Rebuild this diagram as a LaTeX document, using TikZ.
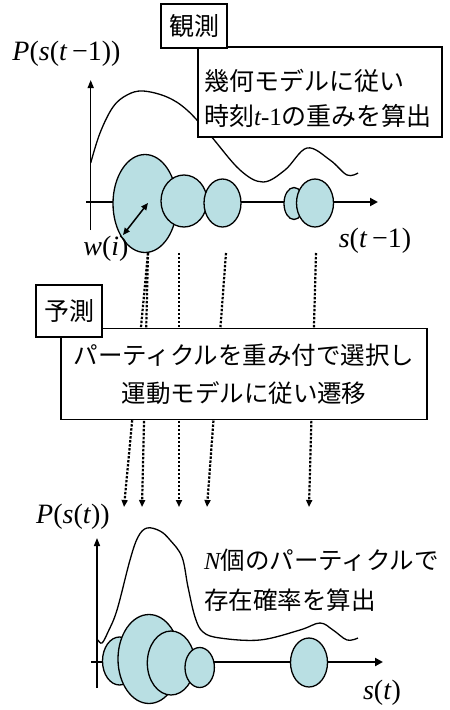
\documentclass[tikz,border=0pt]{standalone}
\usepackage{fontspec}
\setmainfont{Liberation Serif}
\newfontfamily\jp{Noto Sans CJK JP}
\usetikzlibrary{arrows.meta}

\definecolor{particleblue}{RGB}{185,223,227}

\tikzset{
  particle/.style={draw, line width=1.3pt, fill=particleblue},
  haxis/.style={line width=2.5pt, -{Triangle[length=8pt, width=8pt]}},
  vaxis/.style={line width=1.5pt, -{Triangle[length=8pt, width=6pt]}},
  density/.style={line width=1.3pt, smooth, tension=0.6},
  move/.style={line width=2.2pt, dash pattern=on 2.4pt off 1.6pt, -{Triangle[length=7pt, width=6pt]}},
  note/.style={draw, line width=1.5pt, fill=white, inner sep=0pt, font=\jp\fontsize{24.5}{38}\selectfont},
  tag/.style={draw, line width=1.5pt, fill=white, inner sep=0pt, minimum width=66pt, font=\jp\fontsize{25}{30}\selectfont},
  var/.style={font=\fontsize{28}{30}\selectfont, inner sep=0pt}
}

\begin{document}
\begin{tikzpicture}[x=1pt, y=-1pt]
  \useasboundingbox (0,0) rectangle (450,710);

  % time t-1
  \draw[density] plot coordinates {(90.7,163) (100,133) (113,107) (127,95) (143,91) (167,97) (187,110)
    (210,135) (240,170) (263,182) (285,170) (307,148) (330,160) (347,175) (358,173)};
  \draw[vaxis] (90.7,230) -- (90.7,80);
  \draw[haxis] (86,202) -- (378,202);
  \draw[particle] (145,203.5) ellipse [x radius=32pt, y radius=49pt];
  \draw[particle] (184,201) ellipse [x radius=23pt, y radius=26pt];
  \draw[particle] (222.5,203) ellipse [x radius=18.5pt, y radius=24pt];
  \draw[particle] (294,203.5) ellipse [x radius=10pt, y radius=16pt];
  \draw[particle] (315,203) ellipse [x radius=18.5pt, y radius=24pt];
  \coordinate (rim) at (123,235);
  \coordinate (mid) at (148,203);
  \draw[line width=1.5pt, {Triangle[length=7pt, width=6pt]}-{Triangle[length=7pt, width=6pt]}] (rim) -- (mid);

  \node[var] (prev) at (66.5,53.5) {\textit{P}(\textit{s}(\textit{t}\,−1))};
  \node[var] (weight) at (106,249) {\textit{w}(\textit{i})};
  \node[var] (sprev) at (375,241) {\textit{s}(\textit{t}\,−1)};

  \node[note, minimum width=244pt, minimum height=90pt] (geom) at (320,92) {};
  \node[anchor=west, align=left, inner sep=0pt, font=\jp\fontsize{25}{35}\selectfont] (geomtext) at (204,98)
    {幾何モデルに従い\\時刻{\rmfamily\itshape t}{\rmfamily -1}の重みを算出};
  \node[tag, minimum height=44pt] (observe) at (194,26) {観測};

  % resampling and transition
  \coordinate (a1) at (148,253);
  \coordinate (a3) at (179,253);
  \coordinate (a4) at (226,253);
  \coordinate (a5) at (316,253);
  \coordinate (b1) at (124,507);
  \coordinate (b2) at (142,507);
  \coordinate (b3) at (179,507);
  \coordinate (b4) at (207,507);
  \coordinate (b5) at (309,507);
  \draw[move] (a1) -- (b1);
  \draw[move] (a1) -- (b2);
  \draw[move] (a3) -- (b3);
  \draw[move] (a4) -- (b4);
  \draw[move] (a5) -- (b5);

  \node[note, minimum width=366pt, minimum height=91pt, align=center] (motion) at (244,374)
    {パーティクルを重み付で選択し\\運動モデルに従い遷移};
  \node[tag, minimum height=52pt] (predict) at (69,311) {予測};

  % time t
  \draw[density] plot coordinates {(98,640) (102,643) (108,632) (117,610) (130,560) (138,537) (147,528)
    (160,531) (170,540) (182,557) (188,587) (195,617) (203,632) (220,638) (260,640) (300,630)
    (320,623) (333,630) (347,640) (358,638)};
  \draw[vaxis] (97,688) -- (97,538);
  \draw[haxis] (91,662) -- (383,662);
  \draw[particle] (119.5,661) ellipse [x radius=17pt, y radius=24pt];
  \draw[particle] (149,659) ellipse [x radius=31pt, y radius=44.5pt];
  \draw[particle] (171,663) ellipse [x radius=23.7pt, y radius=32pt];
  \draw[particle] (199.7,667.5) ellipse [x radius=14.7pt, y radius=20pt];
  \draw[particle] (309,662.5) ellipse [x radius=18.5pt, y radius=24.5pt];

  \node[var] (cur) at (73,517) {\textit{P}(\textit{s}(\textit{t}))};
  \node[var] (scur) at (382,693) {\textit{s}(\textit{t})};
  \node[anchor=west, align=left, inner sep=0pt, font=\jp\fontsize{24.5}{40}\selectfont] (count) at (204,580)
    {{\rmfamily\itshape N}個のパーティクルで\\存在確率を算出};
\end{tikzpicture}
\end{document}
